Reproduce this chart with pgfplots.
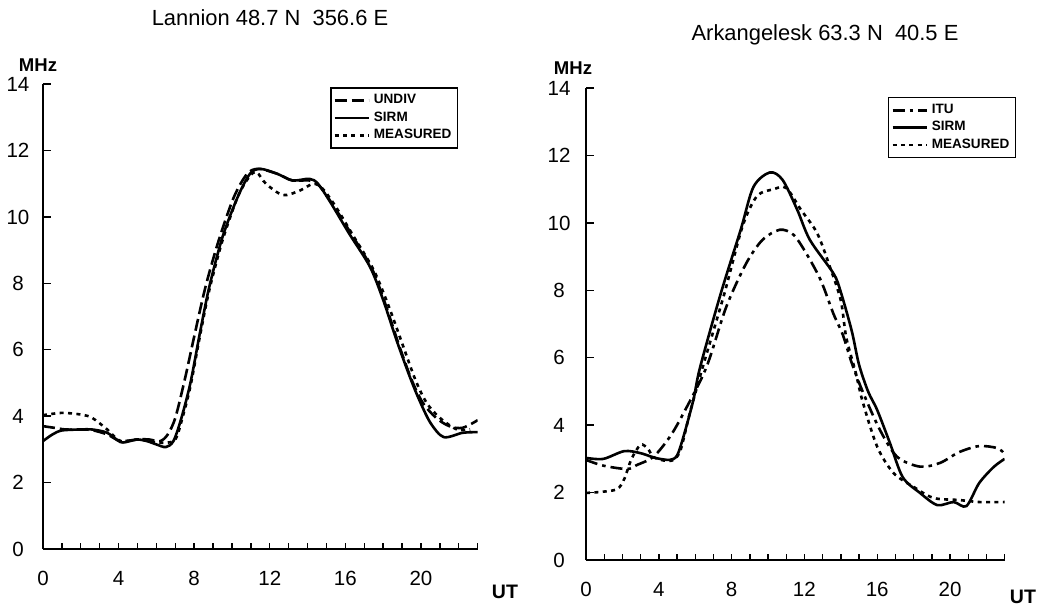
\documentclass[border=0pt]{standalone}
\usepackage{fontspec}
\setmainfont{Liberation Sans}
\usepackage{pgfplots}
\pgfplotsset{compat=1.18}

\pgfplotsset{
  panel/.style={
    scale only axis,
    xmin=0, xmax=23, ymin=0, ymax=14,
    axis x line=bottom, axis y line=left,
    axis line style={-, line width=1bp},
    tick align=inside,
    xtick={0,4,...,20}, minor xtick={1,...,23},
    ytick={0,2,...,14},
    major x tick style={draw=none},
    every tick/.style={black, line width=0.7bp},
    major tick length=4bp, minor tick length=3bp,
    tick label style={font=\fontsize{10.3}{12}\selectfont},
    xticklabel style={anchor=center, yshift=-14.5bp},
    /pgf/number format/assume math mode=true,
    legend style={draw=black, line width=0.6bp,
      font=\fontsize{6.8}{8}\selectfont\bfseries,
      inner sep=1.2bp, row sep=-1.5bp, cells={anchor=west}, anchor=north west},
    legend image code/.code={\draw[#1] (0bp,0bp) -- (17bp,0bp);},
  },
  sirm/.style={black, line width=1.3bp, smooth},
  meas/.style={black, line width=1.3bp, smooth, dash pattern=on 2bp off 2.2bp},
  undiv/.style={black, line width=1.3bp, smooth, dash pattern=on 6bp off 2.5bp},
  itu/.style={black, line width=1.3bp, smooth, dash pattern=on 6bp off 2.5bp on 1.8bp off 2.5bp},
}

\begin{document}
\begin{tikzpicture}
\path[use as bounding box] (0,0) rectangle (520bp,303.5bp);

% Lannion
\begin{axis}[panel, at={(21.5bp,29bp)}, anchor=south west,
  width=217.35bp, height=232.4bp,
  yticklabel style={anchor=center, xshift=-12.5bp},
  legend style={at={(0.661,0.993)}}]
\addplot[undiv] coordinates {
  (0,3.7) (0.6,3.65) (1.2,3.6) (2,3.6) (2.6,3.58) (3.4,3.45) (4.1,3.25)
  (5,3.3) (5.6,3.3) (6.2,3.25) (6.6,3.45) (7.0,3.95) (7.5,5.1) (8.0,6.4)
  (8.6,7.9) (9.3,9.3) (10.1,10.6) (10.8,11.3) (11.4,11.45) (12.4,11.3)
  (13.2,11.1) (14.1,11.1) (14.6,10.95) (15.3,10.4) (16.3,9.5) (17.4,8.45)
  (18.1,7.4) (18.8,6.2) (19.5,5.1) (20.1,4.4) (20.8,3.95) (21.5,3.7)
  (22.2,3.65) (23,3.88)
};
\addlegendentry{UNDIV}
\addplot[sirm] coordinates {
  (0,3.25) (0.5,3.45) (1,3.57) (2,3.6) (2.6,3.6) (3.4,3.5) (4.1,3.22)
  (4.6,3.25) (5,3.3) (5.5,3.25) (6,3.15) (6.5,3.07) (6.9,3.25) (7.3,3.9)
  (7.8,5.0) (8.3,6.5) (8.8,7.9) (9.5,9.4) (10.3,10.6) (10.95,11.3)
  (11.5,11.45) (12.4,11.3) (13.2,11.1) (14.1,11.15) (14.55,11.0)
  (15.2,10.45) (16.2,9.5) (17.3,8.5) (18.0,7.5) (18.7,6.3) (19.4,5.2)
  (19.9,4.5) (20.5,3.8) (21.2,3.37) (22.2,3.5) (23,3.52)
};
\addlegendentry{SIRM}
\addplot[meas] coordinates {
  (0,4.03) (1,4.1) (2,4.05) (2.6,3.95) (3.4,3.6) (4.1,3.25) (5,3.3)
  (5.6,3.25) (6.35,3.2) (7.0,3.3) (7.4,4.0) (7.8,4.9) (8.3,6.4) (8.8,7.8)
  (9.5,9.3) (10.3,10.6) (10.9,11.2) (11.3,11.35) (11.8,11.0) (12.7,10.66)
  (13.6,10.8) (14.3,11.0) (14.8,10.85) (15.5,10.3) (16.4,9.45) (17.5,8.4)
  (18.3,7.3) (19.0,6.2) (19.7,5.1) (20.3,4.4) (21,3.95) (21.9,3.6)
  (22.6,3.6)
};
\addlegendentry{MEASURED}
\end{axis}

% Arkangelesk
\begin{axis}[panel, at={(293bp,23.5bp)}, anchor=south west,
  width=209.3bp, height=235.9bp,
  yticklabel style={anchor=center, xshift=-13.5bp},
  legend style={at={(0.722,0.981)}}]
\addplot[itu] coordinates {
  (0,2.97) (0.95,2.8) (2.25,2.7) (2.8,2.82) (3.7,3.06) (4.6,3.65)
  (5.35,4.35) (6.6,5.7) (7.7,7.5) (8.8,8.8) (9.7,9.5) (10.65,9.8)
  (11.4,9.65) (12.1,9.1) (12.9,8.3) (13.6,7.3) (14.1,6.7) (14.6,5.85)
  (15.2,5.0) (16.15,3.86) (17.1,3.06) (18.35,2.77) (19.45,2.88)
  (20.5,3.2) (21.6,3.38) (22.6,3.32) (23,3.15)
};
\addlegendentry{ITU}
\addplot[sirm] coordinates {
  (0,3.03) (0.95,3.0) (2.1,3.23) (3.0,3.17) (3.8,3.03) (4.6,2.97)
  (5.0,3.1) (5.35,3.65) (5.9,4.75) (6.26,5.7) (7.4,7.9) (8.5,9.8)
  (9.2,11.07) (10.1,11.5) (10.8,11.28) (11.6,10.4) (12.3,9.5) (13.6,8.5)
  (14.0,7.95) (14.6,6.8) (15.0,5.8) (15.5,5.0) (16.0,4.45) (16.7,3.47)
  (17.4,2.46) (18.35,1.99) (19.3,1.63) (20.2,1.72) (20.9,1.6) (21.6,2.28)
  (22.4,2.76) (23,3.0)
};
\addlegendentry{SIRM}
\addplot[meas] coordinates {
  (0,1.99) (0.8,2.02) (1.7,2.1) (2.1,2.4) (2.5,3.0) (3.0,3.42) (3.4,3.3)
  (3.7,3.06) (4.3,2.95) (4.8,2.97) (5.2,3.27) (5.7,4.35) (6.4,5.7)
  (7.6,7.9) (8.6,9.9) (9.4,10.8) (10.3,11.0) (11.0,11.04) (11.8,10.4)
  (12.7,9.7) (13.4,8.7) (14.0,7.7) (14.3,6.6) (14.8,5.6) (15.2,4.7)
  (16.0,3.36) (16.9,2.58) (18.0,2.17) (19.1,1.84) (20.5,1.78) (21.6,1.72)
  (23,1.72)
};
\addlegendentry{MEASURED}
\end{axis}

\node[font=\fontsize{11}{13}\selectfont] at (135bp,294.5bp) {Lannion 48.7 N\ \ 356.6 E};
\node[font=\fontsize{11}{13}\selectfont] at (412.5bp,286bp) {Arkangelesk 63.3 N\ \ 40.5 E};
\node[font=\fontsize{9.3}{11}\selectfont\bfseries] at (19bp,271bp) {MHz};
\node[font=\fontsize{9.3}{11}\selectfont\bfseries] at (286.5bp,269.5bp) {MHz};
\node[font=\fontsize{9.8}{11}\selectfont\bfseries] at (252.5bp,7.5bp) {UT};
\node[font=\fontsize{9.8}{11}\selectfont\bfseries] at (511.5bp,5bp) {UT};
\end{tikzpicture}
\end{document}
